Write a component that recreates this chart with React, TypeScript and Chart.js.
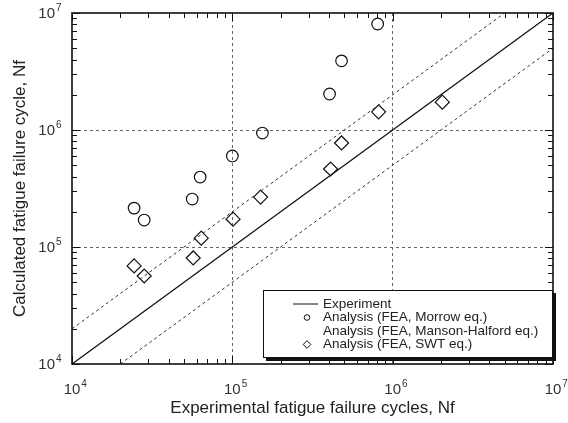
import React, { useEffect, useRef } from "react";
import { Chart, registerables } from "chart.js";

Chart.register(...registerables);

// ---- data (cycles) ----
const morrowExpCycles = [24400, 28200, 56200, 63000, 100000, 154000, 404000, 480000, 806000];
const morrowCalcCycles = [215000, 170000, 257000, 396000, 600000, 942000, 2030000, 3900000, 8050000];
const swtExpCycles = [24400, 28200, 57000, 64000, 101000, 150000, 410000, 480000, 817000, 2040000];
const swtCalcCycles = [68900, 56500, 80600, 119000, 173000, 267000, 464000, 775000, 1430000, 1730000];

const axisMin = 1e4;
const axisMax = 1e7;
const decadeValues = [1e4, 1e5, 1e6, 1e7];
const decadeBase = "10";
const decadeExponents = ["4", "5", "6", "7"];
const legendLabels = [
  "Experiment",
  "Analysis (FEA, Morrow eq.)",
  "Analysis (FEA, Manson-Halford eq.)",
  "Analysis (FEA, SWT eq.)",
];
const xTitle = "Experimental fatigue failure cycles, Nf";
const yTitle = "Calculated fatigue failure cycle, Nf";

// tick values: 1..9 x 10^n plus the top decade
const tickValues: number[] = [];
for (let e = 4; e <= 6; e++) for (let m = 1; m <= 9; m++) tickValues.push(m * Math.pow(10, e));
tickValues.push(1e7);

const isMajor = (v: number) => {
  const l = Math.log10(v);
  return Math.abs(l - Math.round(l)) < 1e-9;
};

const FONT = "'Liberation Sans', Arial, Helvetica, sans-serif";

const frameAndLegend = {
  id: "frameAndLegend",
  afterDraw(chart: any) {
    const { ctx, chartArea: a, scales } = chart;
    const xs = scales.x;
    const ys = scales.y;
    ctx.save();
    ctx.strokeStyle = "#111";
    ctx.lineWidth = 1;
    const seg = (x1: number, y1: number, x2: number, y2: number) => {
      ctx.beginPath();
      ctx.moveTo(x1, y1);
      ctx.lineTo(x2, y2);
      ctx.stroke();
    };
    for (const v of tickValues) {
      const len = isMajor(v) ? 8 : 5;
      const px = Math.round(xs.getPixelForValue(v)) + 0.5;
      const py = Math.round(ys.getPixelForValue(v)) + 0.5;
      seg(px, a.bottom, px, a.bottom - len);
      seg(px, a.top, px, a.top + len);
      seg(a.left, py, a.left + len, py);
      seg(a.right, py, a.right - len, py);
    }
    ctx.lineWidth = 1.6;
    ctx.strokeRect(a.left, a.top, a.right - a.left, a.bottom - a.top);

    // decade tick labels: 10 with superscript exponent
    ctx.fillStyle = "#333";
    ctx.textBaseline = "alphabetic";
    decadeValues.forEach((v, i) => {
      const px = xs.getPixelForValue(v);
      const py = ys.getPixelForValue(v);
      // x axis
      ctx.font = `15px ${FONT}`;
      ctx.textAlign = "center";
      ctx.fillText(decadeBase, px, a.bottom + 30);
      const bw = ctx.measureText(decadeBase).width;
      ctx.font = `10px ${FONT}`;
      ctx.textAlign = "left";
      ctx.fillText(decadeExponents[i], px + bw / 2 + 1, a.bottom + 23);
      // y axis
      ctx.font = `15px ${FONT}`;
      ctx.textAlign = "right";
      ctx.fillText(decadeBase, a.left - 17, py + 5);
      ctx.font = `10px ${FONT}`;
      ctx.textAlign = "left";
      ctx.fillText(decadeExponents[i], a.left - 16, py - 2);
    });

    // legend box
    const bw = 290;
    const bh = 68;
    const bx = a.right - bw;
    const by = a.top + 277;
    ctx.fillStyle = "#111";
    ctx.fillRect(bx + 3, by + 3, bw, bh);
    ctx.fillStyle = "#fff";
    ctx.fillRect(bx, by, bw, bh);
    ctx.lineWidth = 1;
    ctx.strokeStyle = "#111";
    ctx.strokeRect(bx + 0.5, by + 0.5, bw - 1, bh - 1);

    ctx.font = `13.5px ${FONT}`;
    ctx.fillStyle = "#222";
    ctx.textBaseline = "middle";
    ctx.textAlign = "left";
    const tx = bx + 60;
    const mx = bx + 44;
    legendLabels.forEach((lab, i) => {
      const ry = by + 14 + i * 13.5;
      ctx.fillText(lab, tx, ry);
      ctx.lineWidth = 1;
      if (i === 0) {
        seg(bx + 30, ry, bx + 55, ry);
      } else if (i === 1) {
        ctx.beginPath();
        ctx.arc(mx, ry, 2.8, 0, Math.PI * 2);
        ctx.stroke();
      } else if (i === 3) {
        ctx.beginPath();
        ctx.moveTo(mx - 3.8, ry);
        ctx.lineTo(mx, ry - 3.8);
        ctx.lineTo(mx + 3.8, ry);
        ctx.lineTo(mx, ry + 3.8);
        ctx.closePath();
        ctx.stroke();
      }
    });
    ctx.restore();
  },
};

export default function App() {
  const ref = useRef<HTMLCanvasElement | null>(null);

  useEffect(() => {
    if (!ref.current) return;
    const morrowPts = morrowExpCycles.map((x, i) => ({ x, y: morrowCalcCycles[i] }));
    const swtPts = swtExpCycles.map((x, i) => ({ x, y: swtCalcCycles[i] }));
    const expLine = [
      { x: axisMin, y: axisMin },
      { x: axisMax, y: axisMax },
    ];
    const upperBand = [
      { x: axisMin, y: axisMin * 2 },
      { x: axisMax / 2, y: axisMax },
    ];
    const lowerBand = [
      { x: axisMin * 2, y: axisMin },
      { x: axisMax, y: axisMax / 2 },
    ];

    const scaleCommon = (title: string, pad: any) => ({
      type: "logarithmic" as const,
      min: axisMin,
      max: axisMax,
      afterBuildTicks: (scale: any) => {
        scale.ticks = tickValues.map((v) => ({ value: v }));
      },
      ticks: { display: false },
      grid: {
        drawTicks: false,
        lineWidth: 1,
        color: (c: any) => {
          const v = c.tick ? c.tick.value : 0;
          if (!isMajor(v) || v === axisMin || v === axisMax) return "rgba(0,0,0,0)";
          return "#666";
        },
      },
      border: { display: false, dash: [3, 3] },
      title: {
        display: true,
        text: title,
        color: "#222",
        font: { family: FONT, size: 17 },
        padding: pad,
      },
    });

    const chart = new Chart(ref.current, {
      type: "scatter",
      data: {
        datasets: [
          {
            label: legendLabels[0],
            data: expLine,
            showLine: true,
            borderColor: "#111",
            borderWidth: 1.3,
            pointRadius: 0,
          },
          {
            label: "upper",
            data: upperBand,
            showLine: true,
            borderColor: "#333",
            borderWidth: 1,
            borderDash: [3, 3],
            pointRadius: 0,
          },
          {
            label: "lower",
            data: lowerBand,
            showLine: true,
            borderColor: "#333",
            borderWidth: 1,
            borderDash: [3, 3],
            pointRadius: 0,
          },
          {
            label: legendLabels[1],
            data: morrowPts,
            pointStyle: "circle",
            pointRadius: 5.8,
            borderColor: "#111",
            borderWidth: 1.2,
            backgroundColor: "rgba(255,255,255,0)",
          },
          {
            label: legendLabels[2],
            data: [],
            pointRadius: 0,
          },
          {
            label: legendLabels[3],
            data: swtPts,
            pointStyle: "rectRot",
            pointRadius: 7,
            borderColor: "#111",
            borderWidth: 1.2,
            backgroundColor: "rgba(255,255,255,0)",
          },
        ],
      },
      options: {
        responsive: false,
        animation: false,
        layout: { padding: { top: 13, right: 15, left: 0, bottom: 0 } },
        plugins: { legend: { display: false }, tooltip: { enabled: false } },
        scales: {
          x: {
            ...scaleCommon(xTitle, { top: 4, bottom: 4 }),
            position: "bottom",
            afterFit: (s: any) => {
              s.height = 59;
            },
          },
          y: {
            ...scaleCommon(yTitle, { top: 10.5, bottom: 10.5 }),
            position: "left",
            afterFit: (s: any) => {
              s.width = 72;
            },
          },
        },
      } as any,
      plugins: [frameAndLegend],
    });
    return () => chart.destroy();
  }, []);

  return (
    <div style={{ position: "absolute", left: 0, top: 0, width: 568, height: 423, background: "#fff" }}>
      <canvas ref={ref} width={568} height={423} style={{ display: "block" }} />
    </div>
  );
}
